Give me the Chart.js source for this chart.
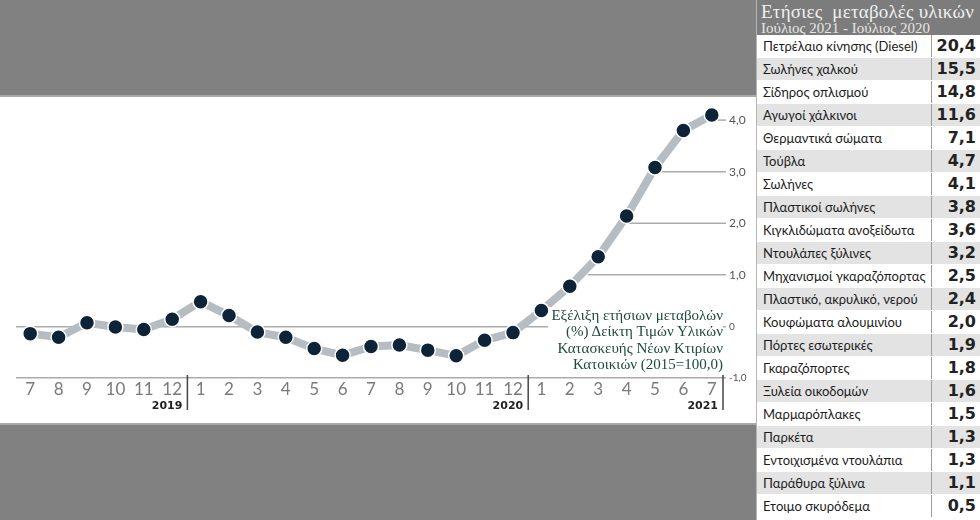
<!DOCTYPE html>
<html lang="el">
<head>
<meta charset="utf-8">
<script src="https://cdn.jsdelivr.net/npm/chart.js@4.4.0/dist/chart.umd.min.js"></script>
<style>
  body { margin: 0; width: 980px; height: 520px; overflow: hidden; position: relative; background: #fff; }
  #topBand { position: absolute; left: 0; top: 0; width: 756px; height: 95px; background: #818181; border-bottom: 2px solid #a9a9a9; }
  #bottomBand { position: absolute; left: 0; top: 423px; width: 756px; height: 97px; background: #818181; border-top: 2px solid #a9a9a9; box-sizing: border-box; }
  #chartBox { position: absolute; left: 0; top: 97px; width: 756px; height: 326px; }
  #note { position: absolute; right: 257px; top: 307px; background: #fff; padding-left: 3px;
          font-family: "Liberation Serif", serif; font-size: 15px; line-height: 16.3px; color: #1d4a3f; text-align: right; }
  #panel { position: absolute; left: 756px; top: 0; width: 224px; height: 520px; background: #fff; border-left: 1px solid #b5b5b5; box-sizing: border-box; }
  #panelHead { height: 35px; background: #7c7c7c; color: #f0f0f0; font-family: "Liberation Serif", serif; padding-left: 4px; white-space: nowrap; overflow: hidden; }
  #panelHead .t1 { font-size: 19px; line-height: 19px; letter-spacing: 0.2px; padding-top: 2px; }
  #panelHead .t2 { font-size: 15px; line-height: 14px; color: #e6e6e6; }
  .row { display: flex; height: 22px; border-bottom: 1px solid #fff; }
  .row.alt { background: #e3e3e3; }
  .row .name { width: 175px; padding-left: 6px; box-sizing: border-box; border-right: 1px solid #9c9c9c;
               font-family: Lato, "Open Sans", sans-serif; font-size: 13px; line-height: 22px; color: #1c1c1c; white-space: nowrap; }
  .row .val { flex: 1; text-align: right; padding-right: 4px; font-family: "DejaVu Sans", sans-serif; font-weight: bold;
              font-size: 16px; line-height: 22px; color: #222; }
</style>
</head>
<body>
<div id="topBand"></div>
<div id="chartBox"><canvas id="chart"></canvas></div>
<div id="bottomBand"></div>
<div id="note">Εξέλιξη ετήσιων μεταβολών<br>(%) Δείκτη Τιμών Υλικών<br>Κατασκευής Νέων Κτιρίων<br>Κατοικιών (2015=100,0)</div>
<div id="panel">
  <div id="panelHead"><div class="t1">Ετήσιες&nbsp; μεταβολές υλικών</div><div class="t2">Ιούλιος 2021 - Ιούλιος 2020</div></div>
  <div id="rows"></div>
</div>
<script>
// Monthly index change (%), July 2019 - July 2021
const months = ["7", "8", "9", "10", "11", "12", "1", "2", "3", "4", "5", "6", "7", "8", "9", "10", "11", "12", "1", "2", "3", "4", "5", "6", "7"];
const changes = [-0.14, -0.21, 0.07, -0.01, -0.06, 0.14, 0.48, 0.21, -0.11, -0.21, -0.43, -0.56, -0.39, -0.36, -0.46, -0.57, -0.27, -0.12, 0.31, 0.78, 1.35, 2.14, 3.08, 3.80, 4.10];
const years = ["2019", "2020", "2021"];
const yearLastIndex = [5, 17, 24];
const yTicks = [-1, 0, 1, 2, 3, 4];
const yTickLabels = ["-1,0", "0", "1,0", "2,0", "3,0", "4,0"];

// Right-hand table
const materials = ["Πετρέλαιο κίνησης (Diesel)", "Σωλήνες χαλκού", "Σίδηρος οπλισμού", "Αγωγοί χάλκινοι", "Θερμαντικά σώματα",
  "Τούβλα", "Σωλήνες", "Πλαστικοί σωλήνες", "Κιγκλιδώματα ανοξείδωτα", "Ντουλάπες ξύλινες", "Μηχανισμοί γκαραζόπορτας",
  "Πλαστικό, ακρυλικό, νερού", "Κουφώματα αλουμινίου", "Πόρτες εσωτερικές", "Γκαραζόπορτες", "Ξυλεία οικοδομών",
  "Μαρμαρόπλακες", "Παρκέτα", "Εντοιχισμένα ντουλάπια", "Παράθυρα ξύλινα", "Ετοιμο σκυρόδεμα"];
const materialChanges = ["20,4", "15,5", "14,8", "11,6", "7,1", "4,7", "4,1", "3,8", "3,6", "3,2", "2,5",
  "2,4", "2,0", "1,9", "1,8", "1,6", "1,5", "1,3", "1,3", "1,1", "0,5"];

let rowsHtml = "";
materials.forEach((m, i) => {
  rowsHtml += `<div class="row${i % 2 ? " alt" : ""}"><div class="name">${m}</div><div class="val">${materialChanges[i]}</div></div>`;
});
document.getElementById("rows").innerHTML = rowsHtml;

//Gridlines start right of the curve, year separators and year labels
const decor = {
  id: "decor",
  beforeDatasetsDraw(chart) {
    const { ctx, chartArea, scales: { x, y } } = chart;
    ctx.save();
    ctx.strokeStyle = "#ababab";
    ctx.lineWidth = 1.5;
    yTicks.forEach(v => {
      if (v <= 0) return;
      let start = chartArea.left;
      for (let i = 0; i < changes.length - 1; i++) {
        if (changes[i] < v && changes[i + 1] >= v) {
          const t = (v - changes[i]) / (changes[i + 1] - changes[i]);
          const x0 = x.getPixelForValue(i);
          start = x0 + t * (x.getPixelForValue(i + 1) - x0) + 7;
        }
      }
      const py = y.getPixelForValue(v);
      ctx.beginPath();
      ctx.moveTo(start, py);
      ctx.lineTo(chartArea.right, py);
      ctx.stroke();
    });
    ctx.restore();
  },
  afterDraw(chart) {
    const { ctx, chartArea, scales: { x } } = chart;
    const half = (x.getPixelForValue(1) - x.getPixelForValue(0)) / 2;
    ctx.save();
    ctx.strokeStyle = "#444";
    ctx.lineWidth = 1.5;
    ctx.fillStyle = "#222";
    ctx.font = "bold 11px 'DejaVu Sans', sans-serif";
    ctx.textAlign = "right";
    ctx.textBaseline = "middle";
    yearLastIndex.forEach((idx, k) => {
      const sx = Math.min(x.getPixelForValue(idx) + half + 1, chartArea.right - 3);
      ctx.beginPath();
      ctx.moveTo(sx, chartArea.bottom - 3);
      ctx.lineTo(sx, chartArea.bottom + 32);
      ctx.stroke();
      ctx.fillText(years[k], sx - 5, chartArea.bottom + 28);
    });
    ctx.restore();
  }
};

const context = document.getElementById("chart").getContext("2d");
const line = new Chart(context, {
  type: "line",
  data: {
    labels: months,
    datasets: [
      {
        data: changes,
        borderColor: "#b5bdc3",
        borderWidth: 8,
        pointBackgroundColor: "#0d2337",
        pointBorderColor: "#ffffff",
        pointBorderWidth: 1.5,
        pointRadius: 7.5,
        tension: 0,
        fill: false,
        clip: false,
      },
    ],
  },
  options: {
    responsive: true,
    maintainAspectRatio: false,
    animation: false,
    layout: { padding: { left: 16, top: 0, right: 0, bottom: 0 } },
    plugins: { legend: { display: false }, tooltip: { enabled: false } },
    scales: {
      x: {
        offset: true,
        grid: { display: false },
        border: { display: false },
        afterFit: s => { s.height = 45; },
        ticks: {
          autoSkip: false,
          maxRotation: 0,
          padding: -7,
          color: "#7a7a7a",
          font: { family: "Lato, 'Open Sans', sans-serif", size: 17 },
        },
      },
      y: {
        position: "right",
        min: -1,
        max: 4.25,
        afterFit: s => { s.width = 30; },
        afterBuildTicks: s => { s.ticks = yTicks.map(v => ({ value: v })); },
        grid: {
          drawTicks: false,
          lineWidth: 1.5,
          color: c => (c.tick && c.tick.value <= 0 ? "#ababab" : "rgba(0,0,0,0)"),
        },
        border: { display: false },
        ticks: {
          padding: 3,
          color: "#555",
          callback: v => yTickLabels[yTicks.indexOf(v)],
          font: c => ({ family: "Lato, 'Open Sans', sans-serif", size: c.tick && c.tick.value <= 0 ? 10 : 12 }),
        },
      },
    },
  },
  plugins: [decor],
});
</script>
</body>
</html>
